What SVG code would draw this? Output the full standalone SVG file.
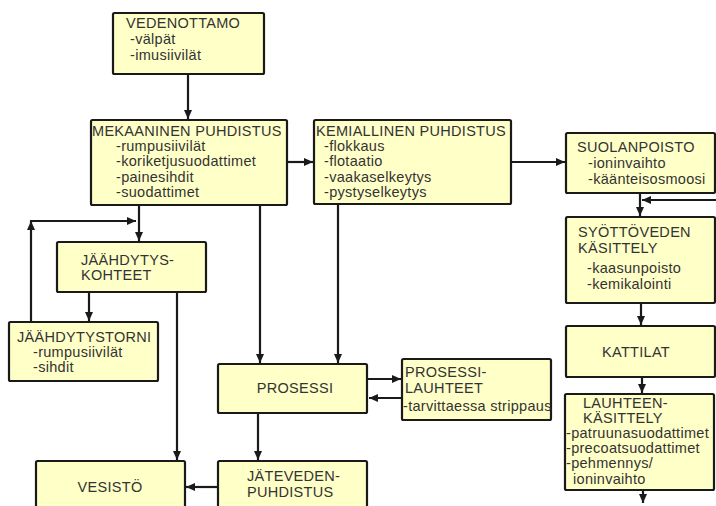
<svg xmlns="http://www.w3.org/2000/svg" width="716" height="506" viewBox="0 0 716 506">
<defs>
<style>
.box{fill:#ffffc8;stroke:#1a1a1a;stroke-width:2.2}
.t{font-family:"Liberation Sans",Arial,sans-serif;font-size:14.5px;letter-spacing:0.3px;fill:#333}
.c{text-anchor:middle}
.ln{stroke:#1a1a1a;stroke-width:2.2;fill:none}
</style>
<marker id="ah" markerUnits="userSpaceOnUse" markerWidth="10" markerHeight="10" viewBox="0 0 10 10" refX="9" refY="5" orient="auto">
<path d="M0,1 L9,5 L0,9 Z" fill="#1a1a1a"/>
</marker>
</defs>
<rect width="716" height="506" fill="#fff"/>
<g id="connectors">
<line class="ln" x1="188" y1="74" x2="188" y2="119" marker-end="url(#ah)"/>
<line class="ln" x1="287" y1="162" x2="313" y2="162" marker-end="url(#ah)"/>
<line class="ln" x1="511" y1="162" x2="565" y2="162" marker-end="url(#ah)"/>
<line class="ln" x1="640" y1="193" x2="640" y2="216" marker-end="url(#ah)"/>
<line class="ln" x1="716" y1="200" x2="642" y2="200" marker-end="url(#ah)"/>
<line class="ln" x1="641" y1="303" x2="641" y2="325" marker-end="url(#ah)"/>
<line class="ln" x1="642" y1="377" x2="642" y2="393" marker-end="url(#ah)"/>
<line class="ln" x1="643" y1="490" x2="643" y2="503" marker-end="url(#ah)"/>
<line class="ln" x1="139" y1="205" x2="139" y2="241" marker-end="url(#ah)"/>
<line class="ln" x1="31" y1="322" x2="31" y2="221" marker-end="url(#ah)"/>
<line class="ln" x1="30" y1="221" x2="136" y2="221" marker-end="url(#ah)"/>
<line class="ln" x1="89" y1="292" x2="89" y2="321" marker-end="url(#ah)"/>
<line class="ln" x1="177" y1="292" x2="177" y2="460" marker-end="url(#ah)"/>
<line class="ln" x1="260" y1="205" x2="260" y2="363" marker-end="url(#ah)"/>
<line class="ln" x1="338" y1="204" x2="338" y2="363" marker-end="url(#ah)"/>
<line class="ln" x1="367" y1="379" x2="401" y2="379" marker-end="url(#ah)"/>
<line class="ln" x1="402" y1="398" x2="369" y2="398" marker-end="url(#ah)"/>
<line class="ln" x1="258" y1="413" x2="258" y2="460" marker-end="url(#ah)"/>
<line class="ln" x1="218" y1="487" x2="186" y2="487" marker-end="url(#ah)"/>
</g>
<g id="vedenottamo">
<rect class="box" x="113" y="13" width="151" height="61" rx="1.5"/>
<text class="t" x="126" y="28">VEDENOTTAMO</text>
<text class="t" x="130" y="44">-välpät</text>
<text class="t" x="130" y="60">-imusiivilät</text>
</g>
<g id="mekaaninen">
<rect class="box" x="91" y="120" width="196" height="85" rx="1.5"/>
<text class="t" x="92" y="136">MEKAANINEN PUHDISTUS</text>
<text class="t" x="116" y="151">-rumpusiivilät</text>
<text class="t" x="116" y="166">-koriketjusuodattimet</text>
<text class="t" x="116" y="182">-painesihdit</text>
<text class="t" x="116" y="197">-suodattimet</text>
</g>
<g id="kemiallinen">
<rect class="box" x="314" y="120" width="197" height="84" rx="1.5"/>
<text class="t" x="316" y="136">KEMIALLINEN PUHDISTUS</text>
<text class="t" x="324" y="151">-flokkaus</text>
<text class="t" x="324" y="166">-flotaatio</text>
<text class="t" x="324" y="182">-vaakaselkeytys</text>
<text class="t" x="324" y="197">-pystyselkeytys</text>
</g>
<g id="suolanpoisto">
<rect class="box" x="566" y="133" width="149" height="60" rx="1.5"/>
<text class="t" x="577" y="152">SUOLANPOISTO</text>
<text class="t" x="588" y="168">-ioninvaihto</text>
<text class="t" x="588" y="184">-käänteisosmoosi</text>
</g>
<g id="syottoveden">
<rect class="box" x="566" y="217" width="149" height="86" rx="1.5"/>
<text class="t" x="578" y="237">SYÖTTÖVEDEN</text>
<text class="t" x="578" y="253">KÄSITTELY</text>
<text class="t" x="587" y="273">-kaasunpoisto</text>
<text class="t" x="587" y="289">-kemikalointi</text>
</g>
<g id="kattilat">
<rect class="box" x="566" y="326" width="149" height="51" rx="1.5"/>
<text class="t c" x="636" y="357">KATTILAT</text>
</g>
<g id="lauhteenkasittely">
<rect class="box" x="565" y="394" width="149" height="96" rx="1.5"/>
<text class="t" x="583" y="408">LAUHTEEN-</text>
<text class="t" x="583" y="423">KÄSITTELY</text>
<text class="t" x="566" y="438">-patruunasuodattimet</text>
<text class="t" x="566" y="453">-precoatsuodattimet</text>
<text class="t" x="566" y="468">-pehmennys/</text>
<text class="t" x="573" y="484">ioninvaihto</text>
</g>
<g id="jaahdytyskohteet">
<rect class="box" x="57" y="242" width="149" height="50" rx="1.5"/>
<text class="t" x="81" y="265">JÄÄHDYTYS-</text>
<text class="t" x="81" y="280">KOHTEET</text>
</g>
<g id="jaahdytystorni">
<rect class="box" x="9" y="322" width="149" height="59" rx="1.5"/>
<text class="t" x="17" y="342">JÄÄHDYTYSTORNI</text>
<text class="t" x="33" y="357">-rumpusiivilät</text>
<text class="t" x="33" y="372">-sihdit</text>
</g>
<g id="prosessi">
<rect class="box" x="218" y="364" width="149" height="49" rx="1.5"/>
<text class="t c" x="295" y="393">PROSESSI</text>
</g>
<g id="prosessilauhteet">
<rect class="box" x="402" y="359" width="149" height="61" rx="1.5"/>
<text class="t" x="405" y="377">PROSESSI-</text>
<text class="t" x="405" y="393">LAUHTEET</text>
<text class="t" x="403" y="411">-tarvittaessa strippaus</text>
</g>
<g id="jatevedenpuhdistus">
<rect class="box" x="218" y="461" width="149" height="60" rx="1.5"/>
<text class="t" x="247" y="481">JÄTEVEDEN-</text>
<text class="t" x="247" y="497">PUHDISTUS</text>
</g>
<g id="vesisto">
<rect class="box" x="36" y="461" width="149" height="60" rx="1.5"/>
<text class="t c" x="110" y="492">VESISTÖ</text>
</g>
</svg>
